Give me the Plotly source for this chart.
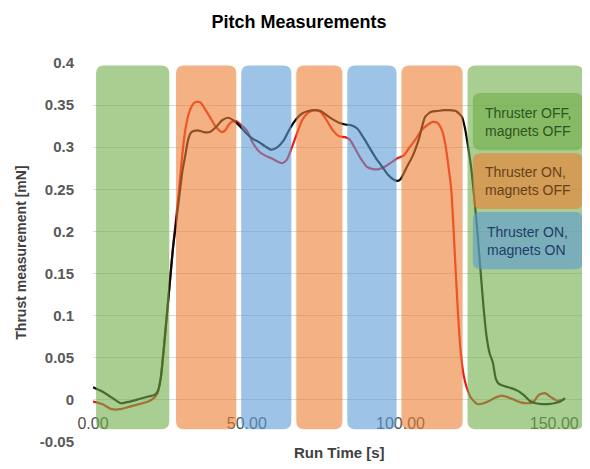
import plotly.graph_objects as go

# ---------------- data ----------------
time_dark = [0, 3, 6, 9, 12, 15, 18, 20, 21, 22, 23, 24, 25, 26, 27, 28, 29, 30, 31, 32, 34, 36, 38, 40,
             42, 44, 46, 48, 50, 52, 54, 56, 58, 60, 62, 64, 66, 68, 70, 72, 74, 76, 78, 80, 82, 84,
             86, 88, 90, 92, 94, 96, 98, 99, 100, 102, 104, 106, 108, 110, 112, 114, 116, 118, 119,
             120, 121, 122, 123, 124, 125, 126, 127, 128, 129, 130, 131, 132, 134, 136, 138, 140,
             142, 144, 146, 148, 150, 152, 153.5]
thrust_dark = [0.015, 0.010, 0.003, -0.004, -0.002, 0.001, 0.004, 0.006, 0.010, 0.025, 0.060, 0.100,
               0.140, 0.180, 0.210, 0.240, 0.270, 0.290, 0.310, 0.318, 0.320, 0.318, 0.318, 0.324,
               0.332, 0.335, 0.331, 0.324, 0.316, 0.310, 0.306, 0.301, 0.297, 0.300, 0.308, 0.322,
               0.333, 0.340, 0.343, 0.344, 0.343, 0.338, 0.333, 0.329, 0.327, 0.326, 0.322, 0.311,
               0.299, 0.287, 0.277, 0.267, 0.261, 0.260, 0.262, 0.276, 0.290, 0.310, 0.336, 0.342,
               0.343, 0.344, 0.344, 0.343, 0.340, 0.336, 0.322, 0.300, 0.275, 0.240, 0.200, 0.155,
               0.110, 0.075, 0.055, 0.045, 0.025, 0.019, 0.016, 0.014, 0.011, 0.006, -0.001, -0.004,
               -0.005, -0.005, -0.004, -0.002, 0.002]

time_red = [0, 3, 6, 9, 12, 15, 18, 20, 21, 22, 23, 24, 25, 26, 27, 28, 29, 30, 31, 32, 33, 34, 35,
            36, 38, 40, 42, 43, 44, 45, 46.5, 48, 50, 52, 54, 56, 58, 60, 61.5, 63, 64.5, 66, 68, 70,
            72, 74, 76, 78, 80, 82, 83.5, 85, 87, 89, 91, 93, 95, 97, 99, 101, 103, 105, 107, 109,
            110.5, 112, 113.5, 114.5, 115.5, 116.5, 117.5, 118.5, 119.5, 120.5, 121.5, 123, 125,
            127, 129, 131, 133, 135, 137, 139, 141, 143, 145, 147, 149, 151, 153.5]
thrust_red = [-0.002, -0.005, -0.011, -0.011, -0.008, -0.005, -0.002, 0.003, 0.008, 0.025, 0.060,
              0.100, 0.140, 0.180, 0.215, 0.250, 0.290, 0.320, 0.338, 0.348, 0.353, 0.354, 0.353,
              0.348, 0.336, 0.324, 0.318, 0.320, 0.326, 0.330, 0.331, 0.327, 0.320, 0.305, 0.295,
              0.290, 0.287, 0.283, 0.281, 0.285, 0.298, 0.313, 0.332, 0.341, 0.344, 0.342, 0.332,
              0.320, 0.313, 0.312, 0.309, 0.300, 0.287, 0.277, 0.274, 0.274, 0.277, 0.282, 0.287,
              0.290, 0.300, 0.310, 0.321, 0.327, 0.330, 0.329, 0.320, 0.305, 0.280, 0.250, 0.185,
              0.115, 0.060, 0.030, 0.015, 0.002, -0.005, -0.004, -0.001, 0.003, 0.005, 0.003, 0.000,
              -0.003, -0.004, -0.003, 0.006, 0.008, 0.003, -0.001, 0.001]

# test phases (run time in s)
phase_start = [1.0, 27.0, 48.2, 66.1, 82.7, 100.3, 121.8]
phase_end = [24.8, 46.6, 64.5, 81.1, 98.7, 120.2, 159.5]
phase_kind = ["off", "on_off", "on_on", "on_off", "on_on", "on_off", "off"]

legend_labels = ["Thruster OFF,<br>magnets OFF", "Thruster ON,<br>magnets OFF", "Thruster ON,<br>magnets ON"]
legend_kinds = ["off", "on_off", "on_on"]

y_ticks = [0.4, 0.35, 0.3, 0.25, 0.2, 0.15, 0.1, 0.05, 0, -0.05]
y_tick_text = ["0.4", "0.35", "0.3", "0.25", "0.2", "0.15", "0.1", "0.05", "0", "-0.05"]
x_ticks = [0, 50, 100, 150]
x_tick_text = ["0.00", "50.00", "100.00", "150.00"]

# ---------------- style ----------------
FONT = "Liberation Sans"
kind_color = {"off": "rgb(112,173,71)", "on_off": "rgb(237,125,49)", "on_on": "rgb(91,155,213)"}
kind_text = {"off": "rgb(45,85,30)", "on_off": "rgb(105,65,25)", "on_on": "rgb(30,60,105)"}
OVERLAY_OPACITY = 0.6

X_RANGE = [0, 160]
Y_RANGE = [-0.05, 0.4]


def rounded(x0, x1, y0, y1, rx, ry):
    return (f"M {x0+rx},{y0} L {x1-rx},{y0} Q {x1},{y0} {x1},{y0+ry} "
            f"L {x1},{y1-ry} Q {x1},{y1} {x1-rx},{y1} L {x0+rx},{y1} "
            f"Q {x0},{y1} {x0},{y1-ry} L {x0},{y0+ry} Q {x0},{y0} {x0+rx},{y0} Z")


fig = go.Figure()
fig.add_trace(go.Scatter(x=time_red, y=thrust_red, mode="lines",
                         line=dict(color="rgb(235,25,25)", width=2.2, shape="spline", smoothing=0.6),
                         showlegend=False))
fig.add_trace(go.Scatter(x=time_dark, y=thrust_dark, mode="lines",
                         line=dict(color="rgb(10,10,10)", width=2.2, shape="spline", smoothing=0.6),
                         showlegend=False))

shapes = []
RX, RY = 2.6, 0.0095
for s, e, k in zip(phase_start, phase_end, phase_kind):
    shapes.append(dict(type="path", xref="x", yref="y", layer="above",
                       path=rounded(s, e, -0.035, 0.397, RX, RY),
                       fillcolor=kind_color[k], opacity=OVERLAY_OPACITY, line=dict(width=0)))

# legend boxes (paper coords)
box_x0, box_x1 = 0.772, 0.995
box_rows = [(0.770, 0.921), (0.615, 0.762), (0.456, 0.607)]
for (y0, y1), k, lab in zip(box_rows, legend_kinds, legend_labels):
    shapes.append(dict(type="path", xref="paper", yref="paper", layer="above",
                       path=rounded(box_x0, box_x1, y0, y1, 0.015, 0.02),
                       fillcolor=kind_color[k], opacity=OVERLAY_OPACITY, line=dict(width=0)))
    fig.add_annotation(x=(box_x0 + box_x1) / 2, y=(y0 + y1) / 2, xref="paper", yref="paper",
                       xanchor="center", yanchor="middle",
                       text=lab, showarrow=False, align="left",
                       font=dict(family=FONT, size=14, color=kind_text[k]))

fig.add_annotation(x=-0.148, y=0.5, xref="paper", yref="paper", text="<b>Thrust measurement [mN]</b>",
                   textangle=-90, showarrow=False, xanchor="center", yanchor="middle",
                   font=dict(family=FONT, size=14, color="rgb(64,64,64)"))
fig.add_annotation(x=0.5, y=-0.027, xref="paper", yref="paper", yanchor="middle", xanchor="center",
                   text="<b>Run Time [s]</b>", showarrow=False,
                   font=dict(family=FONT, size=15, color="rgb(64,64,64)"))

# page body has an 8px margin: figure is sized/offset so the plot lands where the reference's does
fig.update_layout(
    template="none",
    width=582, height=461,
    margin=dict(l=85, r=5, t=55, b=27),
    paper_bgcolor="white", plot_bgcolor="white",
    title=dict(text="<b>Pitch Measurements</b>", x=0.5, xref="container", xanchor="center",
               y=1 - 14 / 461, yanchor="middle",
               font=dict(family=FONT, size=18, color="black")),
    shapes=shapes,
    xaxis=dict(range=X_RANGE, tickvals=x_ticks, ticktext=x_tick_text, showgrid=False,
               zeroline=False, showline=False, ticks="", anchor="free",
               position=(0 - Y_RANGE[0]) / (Y_RANGE[1] - Y_RANGE[0]),
               ticklabelstandoff=12,
               tickfont=dict(family=FONT, size=16, color="rgb(80,80,80)")),
    yaxis=dict(range=Y_RANGE, tickvals=y_ticks, ticktext=y_tick_text, showgrid=True,
               gridcolor="rgb(217,217,217)", gridwidth=1, zeroline=False, showline=False,
               ticks="", ticklabelstandoff=18,
               tickfont=dict(family=FONT, size=15, color="rgb(89,89,89)", weight="bold")),
)

fig.write_html("out.html")
